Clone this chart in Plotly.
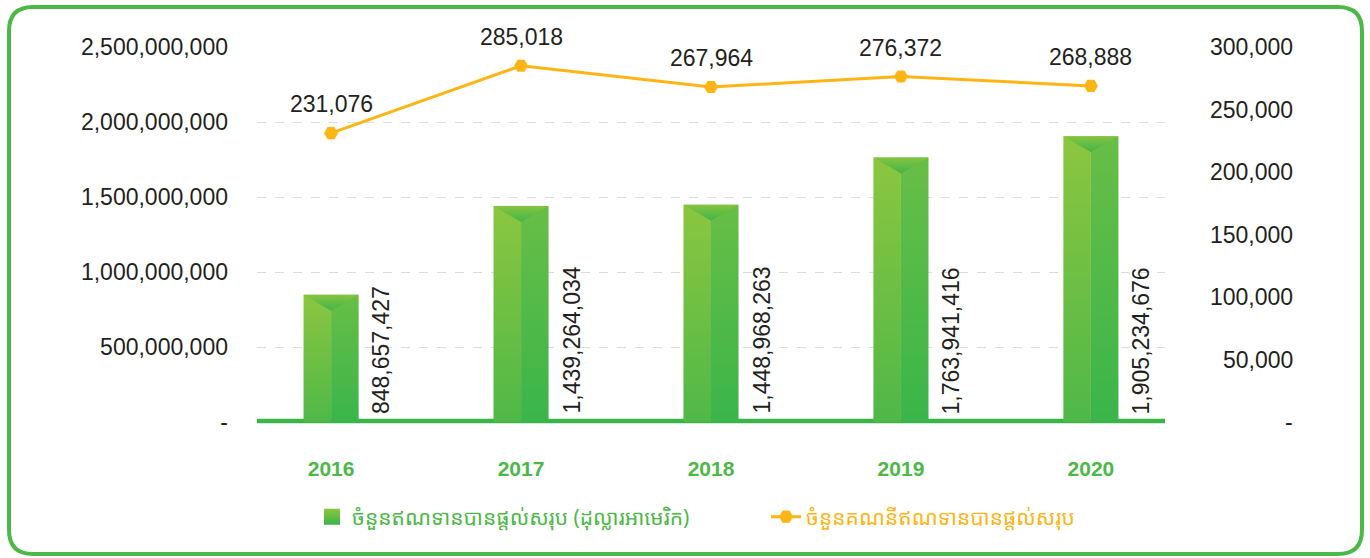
import plotly.graph_objects as go

years = ["2016", "2017", "2018", "2019", "2020"]
loan_amount = [848657427, 1439264034, 1448968263, 1763941416, 1905234676]
loan_accounts = [231076, 285018, 267964, 276372, 268888]
left_ticks = [0, 500000000, 1000000000, 1500000000, 2000000000, 2500000000]
left_tick_text = ["-", "500,000,000", "1,000,000,000", "1,500,000,000", "2,000,000,000", "2,500,000,000"]
right_ticks = [0, 50000, 100000, 150000, 200000, 250000, 300000]
right_tick_text = ["-", "50,000", "100,000", "150,000", "200,000", "250,000", "300,000"]
name_amount = "ចំនួនឥណទានបានផ្តល់សរុប (ដុល្លារអាមេរិក)"
name_accounts = "ចំនួនគណនីឥណទានបានផ្តល់សរុប"

GREEN = "#4cb848"
ORANGE = "#fdb515"
TXT = "#231f20"
FONT = "Liberation Sans, Arial, sans-serif"
KH_FONT = "Noto Sans Khmer, Khmer OS, Noto Sans, Liberation Sans, sans-serif"

# layout geometry (pixels)
W, H = 1370, 558
L, R, T, B = 257, 1165, 47, 422
YMAX = 2500000000
Y2MAX = 300000
XR = [-0.39, 4.39]
HALF = 0.145
NOTCH = YMAX * 16 / (B - T)

fig = go.Figure()

for i, v in enumerate(loan_amount):
    # left half (lighter)
    fig.add_trace(go.Scatter(
        x=[i - HALF, i, i, i - HALF, i - HALF], y=[0, 0, v, v, 0],
        fill="toself", mode="lines", line=dict(width=0),
        fillgradient=dict(type="vertical", colorscale=[[0, "#4fb848"], [1, "#8cc63f"]]),
        legendgroup="amt", showlegend=False, hoverinfo="skip"))
    # right half (darker)
    fig.add_trace(go.Scatter(
        x=[i, i + HALF, i + HALF, i, i], y=[0, 0, v, v, 0],
        fill="toself", mode="lines", line=dict(width=0),
        fillgradient=dict(type="vertical", colorscale=[[0, "#3ab54a"], [1, "#68be46"]]),
        legendgroup="amt", showlegend=False, hoverinfo="skip"))
    # top notch
    fig.add_trace(go.Scatter(
        x=[i - HALF, i + HALF, i, i - HALF], y=[v, v, v - NOTCH, v],
        fill="toself", mode="lines", line=dict(width=0),
        fillgradient=dict(type="vertical", colorscale=[[0, "#40b549"], [1, "#86c440"]]),
        legendgroup="amt", showlegend=False, hoverinfo="skip"))

# legend entry for the bars (square icon)
fig.add_trace(go.Scatter(
    x=[None], y=[None], mode="markers",
    name=f"<span style='color:{GREEN}'>{name_amount}</span>",
    marker=dict(symbol="square", size=22, color="#8cc63f",
                gradient=dict(type="vertical", color="#3ab54a")),
    legendgroup="amt", showlegend=True, legend="legend", hoverinfo="skip"))

fig.add_trace(go.Scatter(
    x=list(range(len(years))), y=loan_accounts, yaxis="y2",
    mode="lines+markers", name=f"<span style='color:{ORANGE}'>{name_accounts}</span>",
    line=dict(color=ORANGE, width=3),
    marker=dict(symbol="hexagon2", size=14, color=ORANGE),
    legend="legend2", hoverinfo="skip"))

annotations = []
for i, v in enumerate(loan_amount):
    annotations.append(dict(
        x=i, y=0, xref="x", yref="y", text=f"{v:,}", textangle=-90,
        showarrow=False, xanchor="center", yanchor="bottom", xshift=50, yshift=6,
        font=dict(family=FONT, size=23, color=TXT)))
for i, v in enumerate(loan_accounts):
    annotations.append(dict(
        x=i, y=v, xref="x", yref="y2", text=f"{v:,}",
        showarrow=False, xanchor="center", yanchor="bottom", yshift=14,
        font=dict(family=FONT, size=23, color=TXT)))
for tv, tt in zip(right_ticks, right_tick_text):
    annotations.append(dict(
        x=(1295 - L) / (R - L), y=tv, xref="paper", yref="y2", text=tt,
        showarrow=False, xanchor="right", yanchor="middle",
        font=dict(family=FONT, size=23, color=TXT)))


def px(X):
    return (X - L) / (R - L)


def py(Y):
    return (B - Y) / (B - T)


x0, x1, y0, y1, r = 9, 1362, 7, 554, 24
border = (
    f"M {px(x0 + r)},{py(y0)} L {px(x1 - r)},{py(y0)} "
    f"Q {px(x1)},{py(y0)} {px(x1)},{py(y0 + r)} "
    f"L {px(x1)},{py(y1 - r)} Q {px(x1)},{py(y1)} {px(x1 - r)},{py(y1)} "
    f"L {px(x0 + r)},{py(y1)} Q {px(x0)},{py(y1)} {px(x0)},{py(y1 - r)} "
    f"L {px(x0)},{py(y0 + r)} Q {px(x0)},{py(y0)} {px(x0 + r)},{py(y0)} Z"
)

shapes = [
    dict(type="path", xref="paper", yref="paper", path=border,
         line=dict(color=GREEN, width=4), layer="below"),
    dict(type="line", xref="paper", yref="paper", x0=0, x1=1, y0=py(421), y1=py(421),
         line=dict(color="#3ab54a", width=4.5), layer="below"),
]

legend_common = dict(orientation="h", yanchor="middle", y=py(517),
                     itemwidth=30, bgcolor="rgba(0,0,0,0)",
                     font=dict(family=KH_FONT, size=21))

fig.update_layout(
    width=W, height=H,
    margin=dict(l=L, r=W - R, t=T, b=H - B, pad=0, autoexpand=False),
    plot_bgcolor="white", paper_bgcolor="white",
    font=dict(family=FONT, size=23, color=TXT),
    xaxis=dict(range=XR, tickvals=list(range(len(years))), ticktext=years,
               showgrid=False, zeroline=False, showline=False, ticks="",
               ticklabelstandoff=32,
               tickfont=dict(family=FONT, size=21, color=GREEN, weight="bold"),
               fixedrange=True),
    yaxis=dict(range=[0, YMAX], tickvals=left_ticks, ticktext=left_tick_text,
               showgrid=True, gridcolor="#dcdcdc", griddash="dash", gridwidth=1,
               zeroline=False, showline=False, ticks="", ticklabelstandoff=28,
               tickfont=dict(family=FONT, size=23, color=TXT)),
    yaxis2=dict(range=[0, Y2MAX], overlaying="y", side="right",
                showgrid=False, zeroline=False, showticklabels=False, ticks=""),
    legend=dict(x=px(312), xanchor="left", **legend_common),
    legend2=dict(x=px(766), xanchor="left", **legend_common),
    showlegend=True,
    annotations=annotations,
    shapes=shapes,
)

fig.write_html("out.html", config={"displayModeBar": False},
               post_script="document.body.style.margin='0';document.body.style.overflow='hidden';")
